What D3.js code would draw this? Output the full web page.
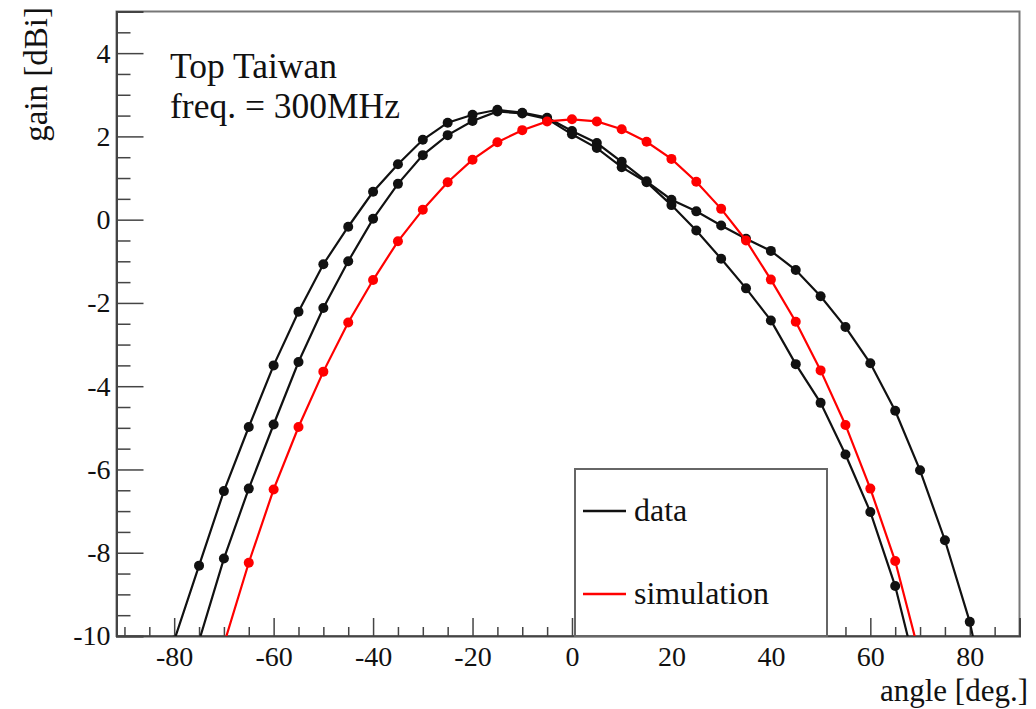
<!DOCTYPE html>
<html>
<head>
<meta charset="utf-8">
<script src="https://cdn.jsdelivr.net/npm/d3@7"></script>
<style>
  html, body { margin: 0; padding: 0; background: #fff; }
  svg { display: block; }
  text { font-family: "Liberation Serif", "DejaVu Serif", serif; fill: #111; }
</style>
</head>
<body>
<svg id="chart" width="1036" height="709"></svg>
<script>
// ---- data (angle in degrees, gain in dBi) ----
const data1Angles = [-80,-75,-70,-65,-60,-55,-50,-45,-40,-35,-30,-25,-20,-15,-10,-5,0,5,10,15,20,25,30,35,40,45,50,55,60,65,70,75,80,85];
const data1Gain   = [-10.11,-8.31,-6.52,-4.98,-3.50,-2.21,-1.07,-0.17,0.67,1.33,1.92,2.33,2.52,2.64,2.57,2.45,2.13,1.84,1.39,0.92,0.48,0.20,-0.14,-0.46,-0.75,-1.21,-1.84,-2.58,-3.45,-4.59,-6.02,-7.70,-9.66,-12.5];

const data2Angles = [-75,-70,-65,-60,-55,-50,-45,-40,-35,-30,-25,-20,-15,-10,-5,0,5,10,15,20,25,30,35,40,45,50,55,60,65,70];
const data2Gain   = [-10.12,-8.14,-6.46,-4.92,-3.42,-2.12,-1.00,0.02,0.86,1.55,2.03,2.37,2.60,2.55,2.42,2.05,1.72,1.26,0.90,0.35,-0.26,-0.94,-1.65,-2.42,-3.47,-4.40,-5.64,-7.02,-8.80,-11.2];

const simAngles = [-70,-65,-60,-55,-50,-45,-40,-35,-30,-25,-20,-15,-10,-5,0,5,10,15,20,25,30,35,40,45,50,55,60,65,70];
const simGain   = [-10.2,-8.24,-6.48,-4.98,-3.65,-2.47,-1.45,-0.52,0.24,0.90,1.44,1.86,2.15,2.36,2.41,2.36,2.17,1.87,1.46,0.91,0.26,-0.50,-1.44,-2.45,-3.62,-4.93,-6.46,-8.20,-10.5];

const xTickLabels = [-80,-60,-40,-20,0,20,40,60,80];
const yTickLabels = [-10,-8,-6,-4,-2,0,2,4];
const legendLabels = ["data", "simulation"];
const infoLines = ["Top Taiwan", "freq. = 300MHz"];
const xTitle = "angle [deg.]";
const yTitle = "gain [dBi]";

// ---- layout ----
const L = 116.5, R = 1019.5, T = 11.5, B = 636;
const x = d3.scaleLinear().domain([-91.6, 90]).range([L, R]);
const y = d3.scaleLinear().domain([-10, 5]).range([B, T]);
const fmt = d => String(d);   // plain hyphen-minus like the reference

const svg = d3.select("#chart");

svg.append("defs").append("clipPath").attr("id", "clip")
  .append("rect").attr("x", L).attr("y", T).attr("width", R - L).attr("height", B - T);

// frame (top & right)
svg.append("rect").attr("x", L).attr("y", T).attr("width", R - L).attr("height", B - T)
  .attr("fill", "none").attr("stroke", "#777").attr("stroke-width", 2);

// x axis: major ticks every 20, minor every 5
const xMinor = d3.range(-90, 90.01, 5).filter(v => v % 20 !== 0);
const gx = svg.append("g").attr("transform", `translate(0,${B})`)
  .call(d3.axisBottom(x).tickValues(xTickLabels).tickSize(-18).tickFormat(fmt));
gx.select(".domain").attr("stroke", "#444").attr("stroke-width", 2);
gx.selectAll(".tick line").attr("stroke", "#444").attr("stroke-width", 1.5);
gx.selectAll(".tick text").attr("font-size", 28).attr("dy", "0").attr("fill", "#111")
  .attr("y", 30).style("font-family", '"Liberation Serif", serif');
const gxm = svg.append("g").attr("transform", `translate(0,${B})`)
  .call(d3.axisBottom(x).tickValues(xMinor).tickSize(-9).tickFormat(""));
gxm.select(".domain").remove();
gxm.selectAll(".tick line").attr("stroke", "#444").attr("stroke-width", 1.5);

// y axis: major every 2, minor every 0.5
const yMinor = d3.range(-10, 5.001, 0.5).filter(v => Math.abs(v % 2) > 1e-9);
const gy = svg.append("g").attr("transform", `translate(${L},0)`)
  .call(d3.axisLeft(y).tickValues(yTickLabels).tickSize(-27).tickFormat(fmt));
gy.select(".domain").attr("stroke", "#444").attr("stroke-width", 2);
gy.selectAll(".tick line").attr("stroke", "#444").attr("stroke-width", 1.5);
gy.selectAll(".tick text").attr("font-size", 28).attr("x", -6).attr("fill", "#111")
  .style("font-family", '"Liberation Serif", serif');
const gym = svg.append("g").attr("transform", `translate(${L},0)`)
  .call(d3.axisLeft(y).tickValues(yMinor).tickSize(-14).tickFormat(""));
gym.select(".domain").remove();
gym.selectAll(".tick line").attr("stroke", "#444").attr("stroke-width", 1.5);

// axis titles
svg.append("text").attr("x", 1028).attr("y", 701).attr("text-anchor", "end")
  .attr("font-size", 31).text(xTitle);
svg.append("text").attr("transform", "translate(47,7) rotate(-90)").attr("text-anchor", "end")
  .attr("font-size", 33).text(yTitle);

// series
const plot = svg.append("g").attr("clip-path", "url(#clip)");
const line = d3.line().x(d => x(d[0])).y(d => y(d[1]));
const series = [
  { a: data1Angles, g: data1Gain, color: "#111" },
  { a: data2Angles, g: data2Gain, color: "#111" },
  { a: simAngles,   g: simGain,   color: "#ff0000" }
];
series.forEach(s => {
  const pts = s.a.map((v, i) => [v, s.g[i]]);
  plot.append("path").datum(pts).attr("d", line)
    .attr("fill", "none").attr("stroke", s.color).attr("stroke-width", 2.2);
  plot.selectAll(null).data(pts).enter().append("circle")
    .attr("cx", d => x(d[0])).attr("cy", d => y(d[1])).attr("r", 5)
    .attr("fill", s.color);
});

// info text
svg.append("text").attr("x", 170).attr("y", 78).attr("font-size", 35.5).text(infoLines[0]);
svg.append("text").attr("x", 170).attr("y", 118).attr("font-size", 35.5).text(infoLines[1]);

// legend
const lg = svg.append("g");
lg.append("rect").attr("x", 575).attr("y", 469).attr("width", 252).attr("height", B - 469)
  .attr("fill", "#fff").attr("stroke", "#666").attr("stroke-width", 2);
const legendColors = ["#111", "#ff0000"];
const legendY = [511, 594];
legendLabels.forEach((lab, i) => {
  lg.append("line").attr("x1", 583).attr("x2", 626).attr("y1", legendY[i]).attr("y2", legendY[i])
    .attr("stroke", legendColors[i]).attr("stroke-width", 2.5);
  lg.append("text").attr("x", 634).attr("y", legendY[i] + 10).attr("font-size", 32).text(lab);
});
</script>
</body>
</html>
